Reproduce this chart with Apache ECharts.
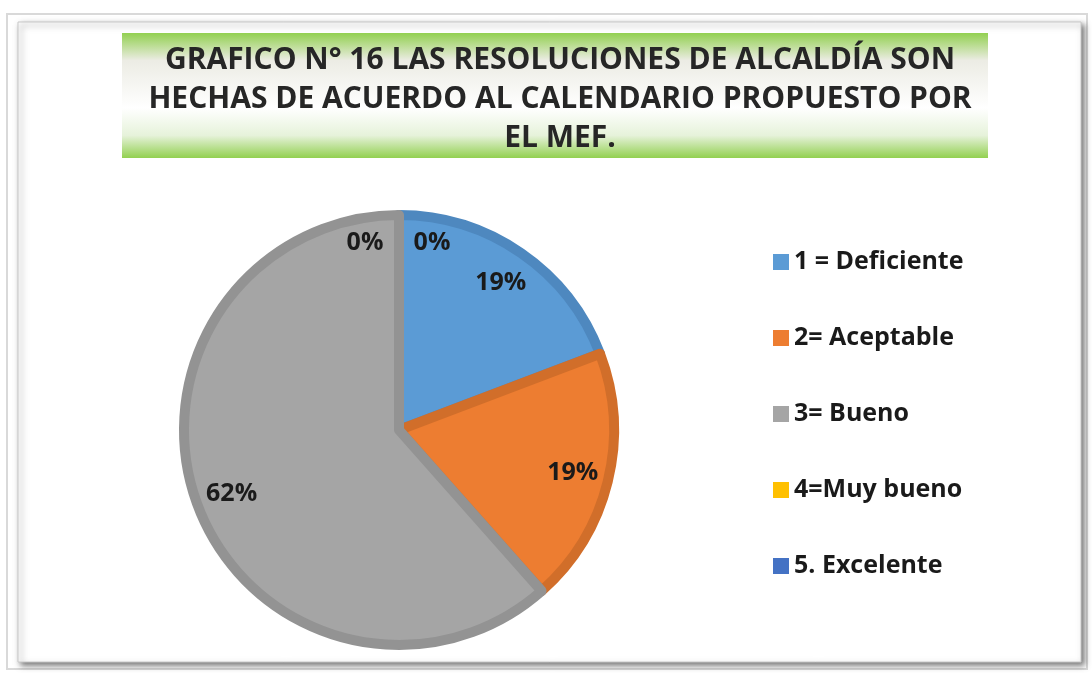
<!DOCTYPE html>
<html>
<head>
<meta charset="utf-8">
<script src="https://cdn.jsdelivr.net/npm/echarts@6/dist/echarts.min.js"></script>
<style>
  html, body { margin: 0; padding: 0; background: #fff; }
  #chart { width: 1092px; height: 673px; }
</style>
</head>
<body>
<div id="chart"></div>
<script>
var dom = document.getElementById("chart");
var myChart = echarts.init(dom);

var categories = ['1 = Deficiente', '2= Aceptable', '3= Bueno', '4=Muy bueno', '5. Excelente'];
var values = [5, 5, 16, 0, 0];
var colors = ['#5b9bd5', '#ed7d31', '#a5a5a5', '#ffc000', '#4472c4'];
var borderColors = ['#4e88bf', '#d16e2a', '#939393', '#e0a800', '#3a63ad'];

var titleText = 'GRAFICO N° 16 LAS RESOLUCIONES DE ALCALDÍA SON\nHECHAS DE ACUERDO AL CALENDARIO PROPUESTO POR\nEL MEF.';

var font = 'Open Sans';
var center = [399, 430];

var pieData = categories.map(function (c, i) {
    return {
        name: c,
        value: values[i],
        itemStyle: {
            color: colors[i],
            borderColor: borderColors[i],
            borderWidth: values[i] > 0 ? 10 : 0
        }
    };
});

// labels drawn by a transparent pie so they sit at ~80% of the radius
var labelData = categories.map(function (c, i) {
    var item = { name: c, value: values[i] };
    if (i === 3) item.label = { offset: [-34, -8] };
    if (i === 4) item.label = { offset: [33, -8] };
    return item;
});

var option = {
    backgroundColor: '#fff',
    animation: false,
    graphic: [
        {
            type: 'rect', z: -10,
            shape: { x: 7, y: 14, width: 1080, height: 655 },
            style: { fill: '#fff', stroke: '#d9d9d9', lineWidth: 2 }
        },
        {
            type: 'rect', z: -9,
            shape: { x: 18, y: 22, width: 1063, height: 640 },
            style: {
                fill: '#fff', stroke: '#c8c8c8', lineWidth: 1,
                shadowBlur: 6, shadowOffsetX: 3, shadowOffsetY: 3,
                shadowColor: 'rgba(0,0,0,0.55)'
            }
        },
        {
            type: 'rect', z: -8,
            shape: { x: 122, y: 33, width: 866, height: 125 },
            style: {
                fill: new echarts.graphic.LinearGradient(0, 0, 0, 1, [
                    { offset: 0, color: '#92d050' },
                    { offset: 0.22, color: '#ecece4' },
                    { offset: 0.6, color: '#ffffff' },
                    { offset: 0.82, color: '#e6f2da' },
                    { offset: 1, color: '#92d050' }
                ])
            }
        }
    ],
    title: {
        text: titleText,
        left: 555,
        top: 36,
        textAlign: 'center',
        textStyle: {
            fontFamily: font,
            fontSize: 30,
            fontWeight: 'bold',
            color: '#262626',
            lineHeight: 39
        }
    },
    legend: {
        orient: 'vertical',
        left: 768,
        top: 244,
        itemWidth: 16,
        itemHeight: 16,
        itemGap: 50,
        icon: 'rect',
        data: categories,
        itemStyle: { borderWidth: 0 },
        textStyle: {
            fontFamily: font,
            fontSize: 25,
            fontWeight: 'bold',
            color: '#1a1a1a',
            lineHeight: 26
        }
    },
    series: [
        {
            type: 'pie',
            center: center,
            radius: 215,
            startAngle: 90,
            clockwise: true,
            percentPrecision: 0,
            label: { show: false },
            labelLine: { show: false },
            emphasis: { disabled: true },
            data: pieData
        },
        {
            type: 'pie',
            center: center,
            radius: [0, 352],
            startAngle: 90,
            clockwise: true,
            percentPrecision: 0,
            silent: true,
            legendHoverLink: false,
            itemStyle: { color: 'rgba(0,0,0,0)' },
            emphasis: { disabled: true },
            label: {
                show: true,
                position: 'inside',
                formatter: '{d}%',
                fontFamily: font,
                fontSize: 25,
                fontWeight: 'bold',
                color: '#1a1a1a'
            },
            labelLine: { show: false },
            data: labelData
        }
    ]
};

if (option && typeof option === 'object') {
    myChart.setOption(option);
}
</script>
</body>
</html>
